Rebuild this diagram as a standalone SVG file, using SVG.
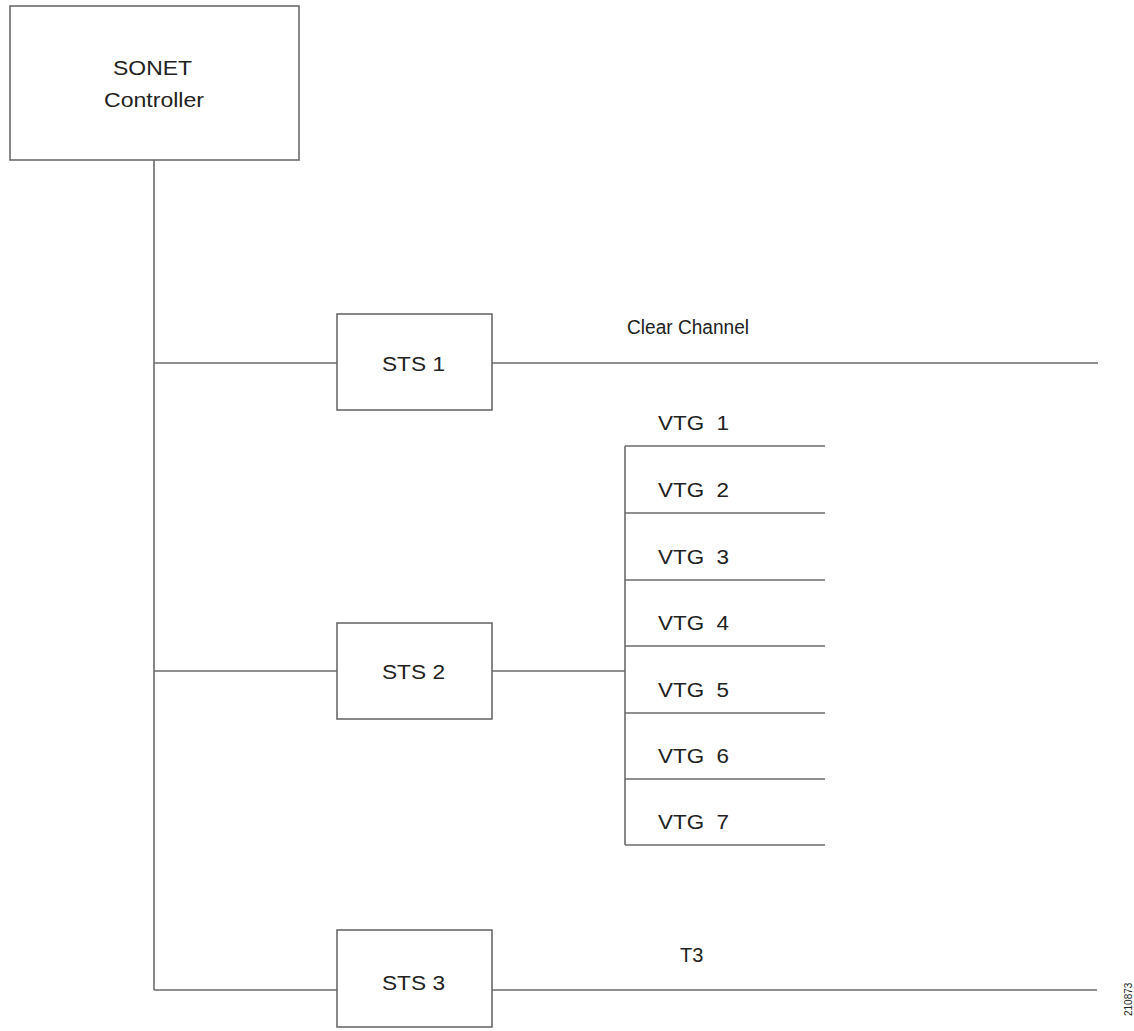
<svg xmlns="http://www.w3.org/2000/svg" width="1134" height="1031" viewBox="0 0 1134 1031">
<style>
.box{fill:#fff;stroke:#6b6b6b;stroke-width:1.6}
.ln{stroke:#6b6b6b;stroke-width:1.6;fill:none}
text{font-family:"Liberation Sans",Arial,sans-serif;fill:#222;white-space:pre;font-size:20px}
</style>
<rect width="1134" height="1031" fill="#fff"/>
<g id="connectors">
<line class="ln" x1="154" y1="160" x2="154" y2="990"/>
<line class="ln" x1="154" y1="363" x2="337" y2="363"/>
<line class="ln" x1="492" y1="363" x2="1098" y2="363"/>
<line class="ln" x1="154" y1="671" x2="337" y2="671"/>
<line class="ln" x1="492" y1="671" x2="625" y2="671"/>
<line class="ln" x1="154" y1="990" x2="337" y2="990"/>
<line class="ln" x1="492" y1="990" x2="1097" y2="990"/>
<line class="ln" x1="625" y1="446" x2="625" y2="845"/>
<line class="ln" x1="625" y1="446" x2="825" y2="446"/>
<line class="ln" x1="625" y1="513" x2="825" y2="513"/>
<line class="ln" x1="625" y1="580" x2="825" y2="580"/>
<line class="ln" x1="625" y1="646" x2="825" y2="646"/>
<line class="ln" x1="625" y1="713" x2="825" y2="713"/>
<line class="ln" x1="625" y1="779" x2="825" y2="779"/>
<line class="ln" x1="625" y1="845" x2="825" y2="845"/>
</g>
<g id="sonet">
<rect class="box" x="10" y="6" width="289" height="154"/>
<text x="113" y="75" textLength="79" lengthAdjust="spacingAndGlyphs">SONET</text>
<text x="104" y="107" textLength="100" lengthAdjust="spacingAndGlyphs">Controller</text>
</g>
<g id="sts1">
<rect class="box" x="337" y="314" width="155" height="96"/>
<text x="382" y="371" textLength="63" lengthAdjust="spacingAndGlyphs">STS 1</text>
</g>
<g id="sts2">
<rect class="box" x="337" y="623" width="155" height="96"/>
<text x="382" y="679" textLength="63" lengthAdjust="spacingAndGlyphs">STS 2</text>
</g>
<g id="sts3">
<rect class="box" x="337" y="930" width="155" height="97"/>
<text x="382" y="990" textLength="63" lengthAdjust="spacingAndGlyphs">STS 3</text>
</g>
<g id="labels">
<text x="627" y="334" textLength="122" lengthAdjust="spacingAndGlyphs">Clear Channel</text>
<text x="680" y="962">T3</text>
<text x="658" y="430" textLength="71" lengthAdjust="spacingAndGlyphs">VTG  1</text>
<text x="658" y="497" textLength="71" lengthAdjust="spacingAndGlyphs">VTG  2</text>
<text x="658" y="564" textLength="71" lengthAdjust="spacingAndGlyphs">VTG  3</text>
<text x="658" y="630" textLength="71" lengthAdjust="spacingAndGlyphs">VTG  4</text>
<text x="658" y="697" textLength="71" lengthAdjust="spacingAndGlyphs">VTG  5</text>
<text x="658" y="763" textLength="71" lengthAdjust="spacingAndGlyphs">VTG  6</text>
<text x="658" y="829" textLength="71" lengthAdjust="spacingAndGlyphs">VTG  7</text>
<text x="1132" y="1016" transform="rotate(-90 1132 1016)" style="font-size:10px">210873</text>
</g>
</svg>
